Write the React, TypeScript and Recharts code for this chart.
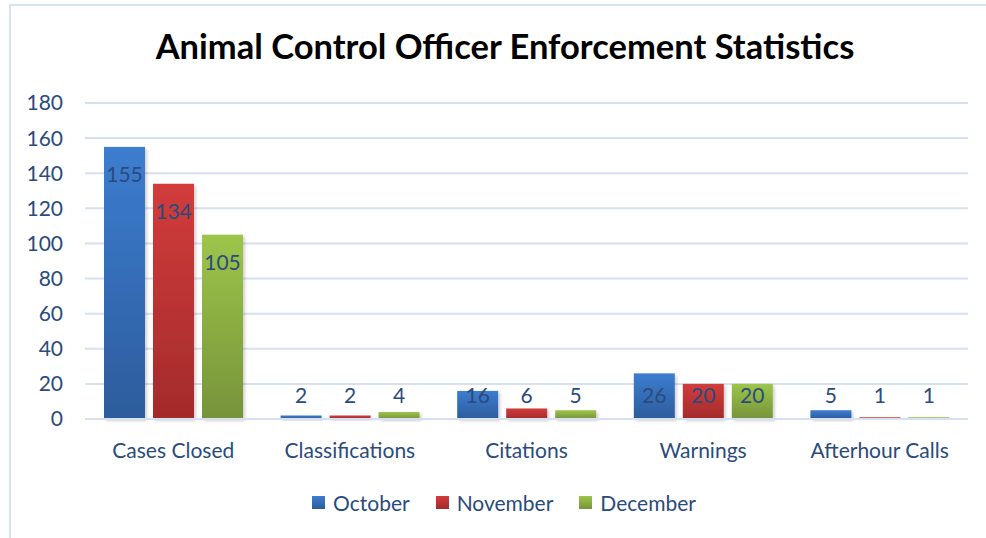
import React from "react";
import { BarChart, Bar, XAxis, YAxis, CartesianGrid, Legend, LabelList } from "recharts";

const categories = ["Cases Closed", "Classifications", "Citations", "Warnings", "Afterhour Calls"];
const october = [155, 2, 16, 26, 5];
const november = [134, 2, 6, 20, 1];
const december = [105, 4, 5, 20, 1];
const yTicks = [0, 20, 40, 60, 80, 100, 120, 140, 160, 180];

const data = categories.map((c, i) => ({
  name: c,
  October: october[i],
  November: november[i],
  December: december[i],
}));

const FONT = "Lato, 'Noto Sans', sans-serif";
const TEXT = "#2A4B7C";

const series = [
  { key: "October", id: "gOct", top: "#3C7DD0", bottom: "#2D5C9C" },
  { key: "November", id: "gNov", top: "#D23C3B", bottom: "#A32B2B" },
  { key: "December", id: "gDec", top: "#9DC54A", bottom: "#76933A" },
];

const renderLabel = (props: any) => {
  const { x, y, width, height, value } = props;
  const base = Number(y) + Number(height);
  const cy = Math.min(Number(y) + 27, base - 25);
  return (
    <text
      x={Number(x) + Number(width) / 2}
      y={cy}
      textAnchor="middle"
      dominantBaseline="central"
      fill={TEXT}
      fontSize={21}
      fontFamily={FONT}
    >
      {value}
    </text>
  );
};

const renderLegend = () => (
  <div
    style={{
      display: "flex",
      justifyContent: "center",
      alignItems: "center",
      paddingLeft: 22,
      fontFamily: FONT,
      fontSize: 21,
      color: TEXT,
    }}
  >
    {series.map((s) => (
      <div key={s.key} style={{ display: "flex", alignItems: "center", margin: "0 13px" }}>
        <span
          style={{
            display: "inline-block",
            width: 13,
            height: 13,
            marginRight: 8,
            background: `linear-gradient(${s.top}, ${s.bottom})`,
          }}
        />
        <span>{s.key}</span>
      </div>
    ))}
  </div>
);

const shadowBar = (id: string) => (props: any) => {
  const { x, y, width, height } = props;
  if (!height || height <= 0) return <g />;
  return (
    <rect x={x} y={y} width={width} height={height} fill={`url(#${id})`} filter="url(#barShadow)" />
  );
};

export default function App() {
  return (
    <div style={{ position: "absolute", left: 0, top: 0, width: 986, height: 538, background: "#fff" }}>
      <div style={{ position: "absolute", left: 9, top: 4, width: 2, height: 534, background: "#D7E1F0" }} />
      <div style={{ position: "absolute", left: 9, top: 4, width: 977, height: 2, background: "#D7E1F0" }} />
      <div
        style={{
          position: "absolute",
          left: 0,
          top: 25,
          width: 1010,
          textAlign: "center",
          fontFamily: FONT,
          fontWeight: 700,
          fontSize: 34.5,
          color: "#000",
        }}
      >
        Animal Control Officer Enforcement Statistics
      </div>
      <BarChart
        width={986}
        height={538}
        data={data}
        margin={{ top: 103, right: 18, bottom: 23, left: 0 }}
        barSize={41}
        barGap={8}
      >
        <defs>
          {series.map((s) => (
            <linearGradient key={s.id} id={s.id} x1="0" y1="0" x2="0" y2="1">
              <stop offset="0%" stopColor={s.top} />
              <stop offset="100%" stopColor={s.bottom} />
            </linearGradient>
          ))}
          <filter id="barShadow" x="-20%" y="-20%" width="150%" height="150%">
            <feDropShadow dx="2" dy="2" stdDeviation="1.5" floodColor="#000" floodOpacity="0.18" />
          </filter>
        </defs>
        <CartesianGrid vertical={false} stroke="#D6E0F0" strokeWidth={2} />
        <XAxis
          dataKey="name"
          axisLine={{ stroke: "#D6E0F0", strokeWidth: 2 }}
          tickLine={false}
          tickSize={0}
          tickMargin={24}
          height={71}
          tick={{ fill: TEXT, fontSize: 21, fontFamily: FONT }}
          interval={0}
        />
        <YAxis
          domain={[0, 180]}
          ticks={yTicks}
          axisLine={false}
          tickLine={false}
          tickSize={0}
          tickMargin={22}
          width={85}
          tick={{ fill: TEXT, fontSize: 21, fontFamily: FONT }}
        />
        <Legend verticalAlign="bottom" content={renderLegend} wrapperStyle={{ left: 0, width: 986 }} />
        {series.map((s) => (
          <Bar
            key={s.key}
            dataKey={s.key}
            fill={s.top}
            isAnimationActive={false}
            shape={shadowBar(s.id)}
          >
            <LabelList dataKey={s.key} content={renderLabel} />
          </Bar>
        ))}
      </BarChart>
    </div>
  );
}
